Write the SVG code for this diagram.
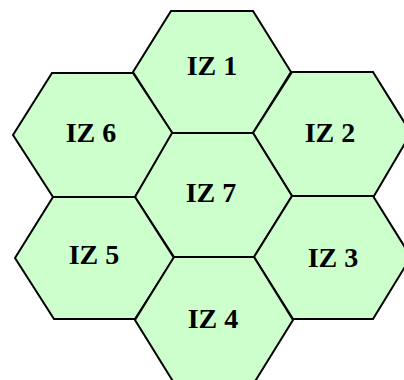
<svg xmlns="http://www.w3.org/2000/svg" width="404" height="380" viewBox="0 0 404 380">
<style>
.hex{fill:#ccffcc;stroke:#000;stroke-width:2;stroke-linejoin:miter}
.lbl{font-family:"Liberation Serif","Times New Roman",serif;font-weight:bold;font-size:28px;fill:#000;text-anchor:middle}
</style>
<rect width="404" height="380" fill="#fff"/>
<g id="iz1"><polygon class="hex" points="171,11 253,11 291,72 253,133 172,133 133,72"/><text class="lbl" x="212" y="75">IZ 1</text></g>
<g id="iz6"><polygon class="hex" points="52,73 133,73 173,134 135,197 53,197 13,135"/><text class="lbl" x="91" y="142">IZ 6</text></g>
<g id="iz2"><polygon class="hex" points="292,72 373,72 411,133 374,196 292,196 253,133"/><text class="lbl" x="330" y="142">IZ 2</text></g>
<g id="iz7"><polygon class="hex" points="172,133 253,133 292,196 254,257 174,257 135,197"/><text class="lbl" x="211" y="202">IZ 7</text></g>
<g id="iz5"><polygon class="hex" points="53,197 135,197 174,258 135,319 54,319 15,258"/><text class="lbl" x="94" y="264">IZ 5</text></g>
<g id="iz3"><polygon class="hex" points="292,196 373,196 411,257 373,319 293,319 254,257"/><text class="lbl" x="333" y="267">IZ 3</text></g>
<g id="iz4"><polygon class="hex" points="174,257 254,257 293,320 254,383 174,383 135,320"/><text class="lbl" x="213" y="328">IZ 4</text></g>
<g id="connectors"/>
</svg>
